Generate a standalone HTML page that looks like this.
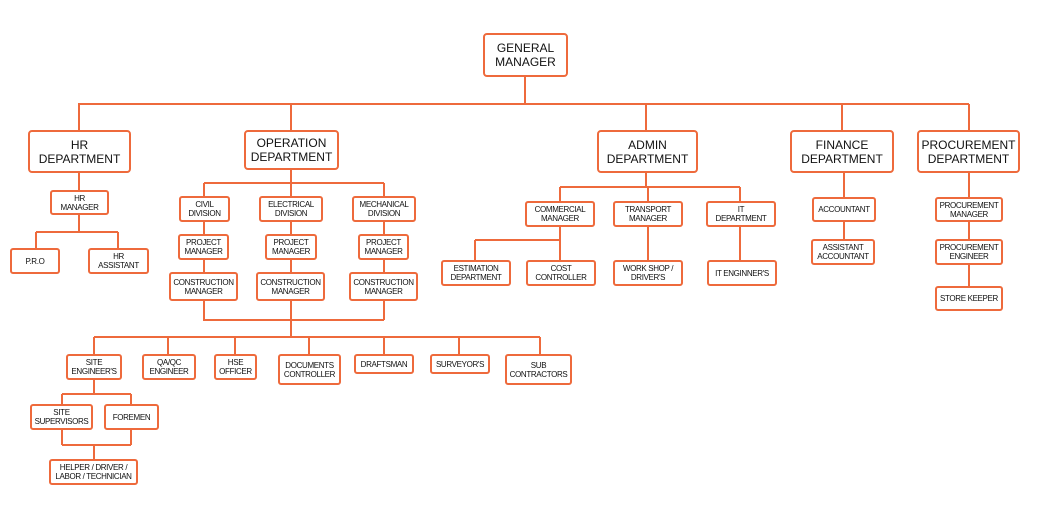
<!DOCTYPE html><html><head><style>
body{margin:0;width:1037px;height:505px;background:#fff;position:relative;overflow:hidden;font-family:"Liberation Sans",Arial,sans-serif}
.b{position:absolute;border:2px solid #ee6a3c;border-radius:3px;box-sizing:border-box;display:flex;align-items:center;justify-content:center;text-align:center;font-size:8px;line-height:9px;color:#111;background:#fff;letter-spacing:-0.35px;white-space:nowrap}
.L{border-width:2.5px;border-radius:4px;font-size:12px;line-height:14px;letter-spacing:0}
svg{position:absolute;left:0;top:0}
</style></head><body>
<svg width="1037" height="505" stroke="#ee6a3c" stroke-width="2" fill="none">
<path d="M525 77V104M78 104H969M79 104V130M291 104V130M646 104V130M842 104V130M969 104V130"/>
<path d="M79 173V232M36 232H118M36 232V248M118 232V248"/>
<path d="M291 170V183M204 183H384M204 183V320M291 183V320M384 183V320M203 320H384M291 320V337M94 337H540M94 337V354M168 337V354M235 337V354M309 337V354M384 337V354M459 337V354M540 337V354"/>
<path d="M94 380V394M62 394H131M62 394V445M131 394V445M62 445H131M94 445V459"/>
<path d="M646 173V187M560 187H740M560 187V240M648 187V260M740 187V260M475 240H560M475 240V260M560 240V260"/>
<path d="M844 173V264M969 173V310"/>
</svg>
<div class="b L" style="left:483px;top:33px;width:85px;height:44px">GENERAL<br>MANAGER</div>
<div class="b L" style="left:28px;top:130px;width:103px;height:43px">HR<br>DEPARTMENT</div>
<div class="b L" style="left:244px;top:130px;width:95px;height:40px">OPERATION<br>DEPARTMENT</div>
<div class="b L" style="left:597px;top:130px;width:101px;height:43px">ADMIN<br>DEPARTMENT</div>
<div class="b L" style="left:790px;top:130px;width:104px;height:43px">FINANCE<br>DEPARTMENT</div>
<div class="b L" style="left:917px;top:130px;width:103px;height:43px">PROCUREMENT<br>DEPARTMENT</div>

<div class="b" style="left:50px;top:190px;width:59px;height:25px">HR<br>MANAGER</div>
<div class="b" style="left:10px;top:248px;width:50px;height:26px">P.R.O</div>
<div class="b" style="left:88px;top:248px;width:61px;height:26px">HR<br>ASSISTANT</div>

<div class="b" style="left:179px;top:196px;width:51px;height:26px">CIVIL<br>DIVISION</div>
<div class="b" style="left:259px;top:196px;width:64px;height:26px">ELECTRICAL<br>DIVISION</div>
<div class="b" style="left:352px;top:196px;width:64px;height:26px">MECHANICAL<br>DIVISION</div>
<div class="b" style="left:178px;top:234px;width:51px;height:26px">PROJECT<br>MANAGER</div>
<div class="b" style="left:265px;top:234px;width:52px;height:26px">PROJECT<br>MANAGER</div>
<div class="b" style="left:358px;top:234px;width:51px;height:26px">PROJECT<br>MANAGER</div>
<div class="b" style="left:169px;top:272px;width:69px;height:29px">CONSTRUCTION<br>MANAGER</div>
<div class="b" style="left:256px;top:272px;width:69px;height:29px">CONSTRUCTION<br>MANAGER</div>
<div class="b" style="left:349px;top:272px;width:69px;height:29px">CONSTRUCTION<br>MANAGER</div>

<div class="b" style="left:66px;top:354px;width:56px;height:26px">SITE<br>ENGINEER'S</div>
<div class="b" style="left:142px;top:354px;width:54px;height:26px">QA/QC<br>ENGINEER</div>
<div class="b" style="left:214px;top:354px;width:43px;height:26px">HSE<br>OFFICER</div>
<div class="b" style="left:278px;top:354px;width:63px;height:31px">DOCUMENTS<br>CONTROLLER</div>
<div class="b" style="left:354px;top:354px;width:60px;height:20px">DRAFTSMAN</div>
<div class="b" style="left:430px;top:354px;width:60px;height:20px">SURVEYOR'S</div>
<div class="b" style="left:505px;top:354px;width:67px;height:31px">SUB<br>CONTRACTORS</div>
<div class="b" style="left:30px;top:404px;width:63px;height:26px">SITE<br>SUPERVISORS</div>
<div class="b" style="left:104px;top:404px;width:55px;height:26px">FOREMEN</div>
<div class="b" style="left:49px;top:459px;width:89px;height:26px">HELPER / DRIVER /<br>LABOR / TECHNICIAN</div>

<div class="b" style="left:525px;top:201px;width:70px;height:26px">COMMERCIAL<br>MANAGER</div>
<div class="b" style="left:613px;top:201px;width:70px;height:26px">TRANSPORT<br>MANAGER</div>
<div class="b" style="left:706px;top:201px;width:70px;height:26px">IT<br>DEPARTMENT</div>
<div class="b" style="left:441px;top:260px;width:70px;height:26px">ESTIMATION<br>DEPARTMENT</div>
<div class="b" style="left:526px;top:260px;width:70px;height:26px">COST<br>CONTROLLER</div>
<div class="b" style="left:613px;top:260px;width:70px;height:26px">WORK SHOP /<br>DRIVER'S</div>
<div class="b" style="left:707px;top:260px;width:70px;height:26px">IT ENGINNER'S</div>

<div class="b" style="left:812px;top:197px;width:64px;height:25px">ACCOUNTANT</div>
<div class="b" style="left:811px;top:239px;width:64px;height:26px">ASSISTANT<br>ACCOUNTANT</div>
<div class="b" style="left:935px;top:197px;width:68px;height:25px">PROCUREMENT<br>MANAGER</div>
<div class="b" style="left:935px;top:239px;width:68px;height:26px">PROCUREMENT<br>ENGINEER</div>
<div class="b" style="left:935px;top:286px;width:68px;height:25px">STORE KEEPER</div>
</body></html>
